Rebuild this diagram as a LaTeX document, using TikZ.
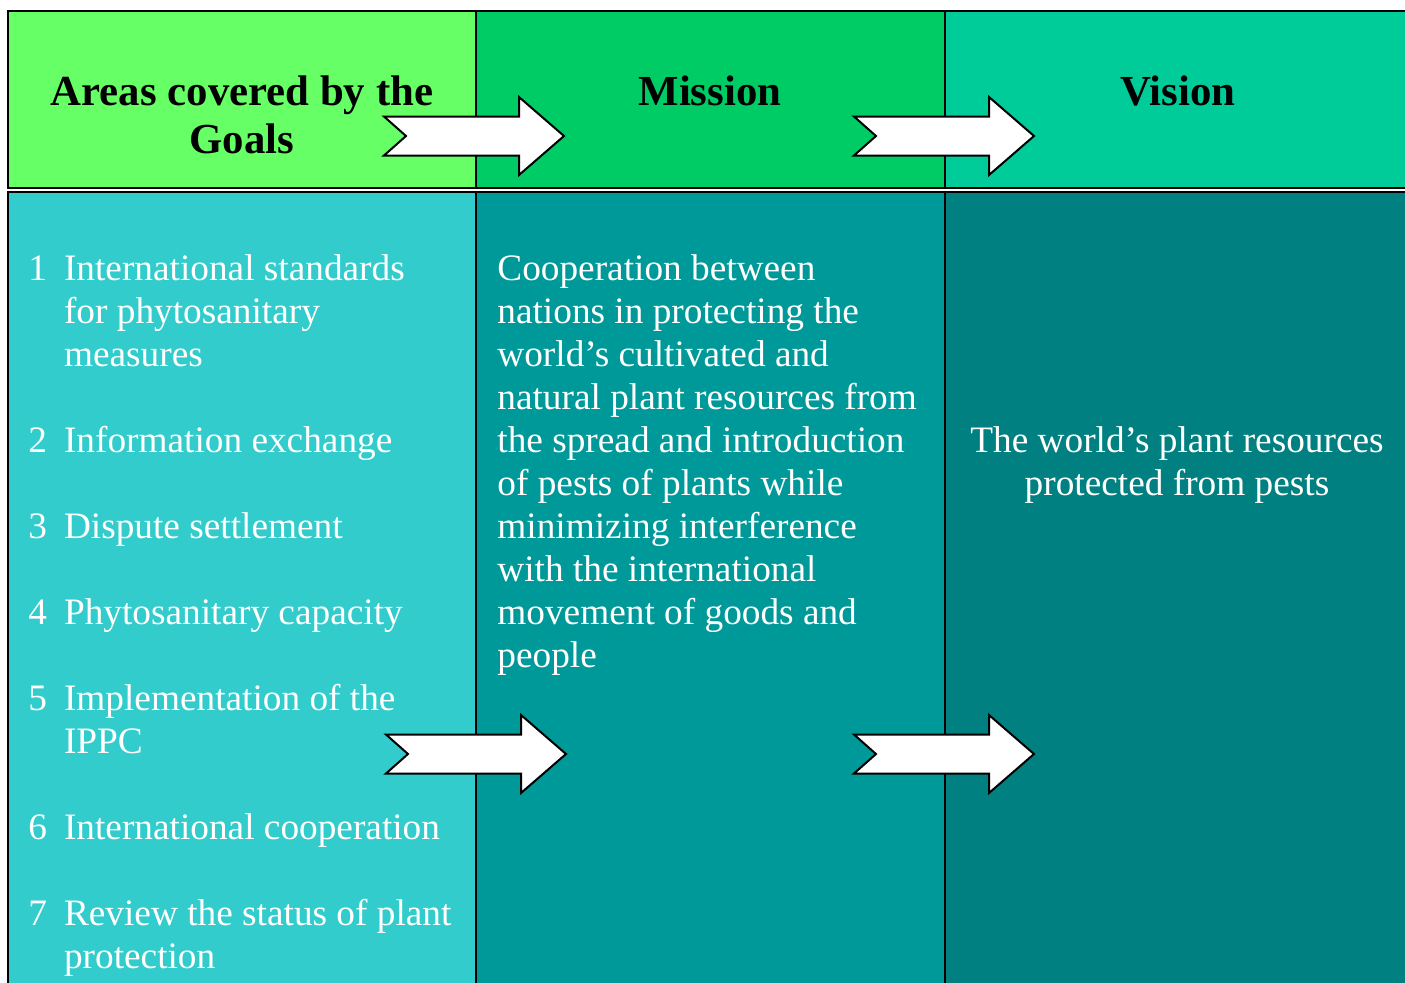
\documentclass[tikz,border=0pt]{standalone}
\usepackage{fontspec}
\setmainfont{Liberation Serif}
\definecolor{hdrA}{HTML}{66FF66}
\definecolor{hdrB}{HTML}{00CC66}
\definecolor{hdrC}{HTML}{00CC99}
\definecolor{bodyA}{HTML}{33CCCC}
\definecolor{bodyB}{HTML}{009999}
\definecolor{bodyC}{HTML}{008080}
\tikzset{
  cell/.style={draw=black, line width=0.8pt},
  hdrtext/.style={inner sep=0pt, anchor=base, text=black,
    font=\fontsize{21.4}{24.2}\selectfont\bfseries},
  bodytext/.style={inner sep=0pt, text=white,
    font=\fontsize{18.65}{21.5}\selectfont},
  blockarrow/.pic={
    \draw[fill=white, line width=1pt, line join=miter]
      (0,-19.5) -- (135,-19.5) -- (135,-39) -- (180,0) -- (135,39)
      -- (135,19.5) -- (0,19.5) -- (22,0) -- cycle;
  }
}
\begin{document}
\begin{tikzpicture}[x=0.5pt,y=-0.5pt]
\useasboundingbox (0,0) rectangle (1405,982);
% header cells
\path[cell, fill=hdrA] (8,11) rectangle (476,188);
\path[cell, fill=hdrB] (476,11) rectangle (945,188);
\path[cell, fill=hdrC] (945,11) rectangle (1425,188);
% body cells
\path[cell, fill=bodyA] (8,192) rectangle (476,1000);
\path[cell, fill=bodyB] (476,192) rectangle (945,1000);
\path[cell, fill=bodyC] (945,192) rectangle (1425,1000);
% arrows
\pic (arrTopA) at (384,136) {blockarrow};
\pic (arrTopB) at (854,136) {blockarrow};
\pic (arrBotA) at (386,754) {blockarrow};
\pic (arrBotB) at (854,754) {blockarrow};
% header texts
\node[hdrtext] (hAreas) at (242,105) {\begin{tabular}[t]{@{}c@{}}Areas covered by the\\Goals\end{tabular}};
\node[hdrtext] (hMission) at (710,105) {Mission};
\node[hdrtext] (hVision) at (1178,105) {Vision};
% body texts
\node[bodytext, anchor=base west] (goals) at (28,280) {\begin{tabular}[t]{@{}l@{\hspace{8.5pt}}l@{}}
1 & International standards\\
  & for phytosanitary\\
  & measures\\
  & \\
2 & Information exchange\\
  & \\
3 & Dispute settlement\\
  & \\
4 & Phytosanitary capacity\\
  & \\
5 & Implementation of the\\
  & IPPC\\
  & \\
6 & International cooperation\\
  & \\
7 & Review the status of plant\\
  & protection
\end{tabular}};
\node[bodytext, anchor=base west] (mission) at (497,280) {\begin{tabular}[t]{@{}l@{}}
Cooperation between\\
nations in protecting the\\
world’s cultivated and\\
natural plant resources from\\
the spread and introduction\\
of pests of plants while\\
minimizing interference\\
with the international\\
movement of goods and\\
people
\end{tabular}};
\node[bodytext, anchor=base] (vision) at (1177,452) {\begin{tabular}[t]{@{}c@{}}
The world’s plant resources\\
protected from pests
\end{tabular}};
\end{tikzpicture}
\end{document}
